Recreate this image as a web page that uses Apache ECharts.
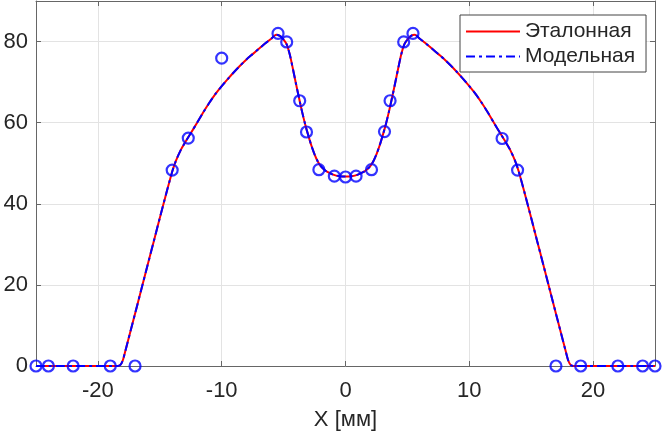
<!DOCTYPE html>
<html>
<head>
<meta charset="utf-8">
<script src="https://cdn.jsdelivr.net/npm/echarts@6/dist/echarts.min.js"></script>
<style>
  html, body { margin: 0; padding: 0; background: #fff; }
  #chart { width: 664px; height: 433px; }
</style>
</head>
<body>
<div id="chart"></div>
<script>
// curve (left half, right half mirrored)
const halfX = [-25, -18.4, -18.2, -18.0, -17.8, -17.4, -17.0, -16.5, -16.0, -15.5, -15.0, -14.5, -14.0, -13.7, -13.3, -13.0, -12.5, -12.0, -11.5, -11.0, -10.5, -10.0, -9.5, -9.0, -8.5, -8.0, -7.5, -7.0, -6.5, -6.0, -5.6, -5.3, -5.0, -4.75, -4.5, -4.25, -4.0, -3.75, -3.5, -3.25, -3.0, -2.75, -2.5, -2.25, -2.0, -1.75, -1.5, -1.0, -0.5]
const halfRef = [0, 0, 0.2, 1.3, 3.5, 8.2, 12.9, 18.8, 24.7, 30.6, 36.5, 42.3, 47.9, 50.6, 53.3, 54.9, 57.4, 59.9, 62.5, 64.9, 67.1, 69.0, 70.8, 72.5, 74.1, 75.6, 76.9, 78.2, 79.5, 80.7, 81.7, 81.4, 80.5, 79.3, 76.8, 73.3, 69.6, 66.0, 62.6, 59.5, 56.8, 54.3, 52.2, 50.5, 49.3, 48.5, 47.9, 47.2, 46.8]
const centerY = 46.7

const curveX = halfX.concat([0], halfX.slice().reverse().map(v => -v))
const refY = halfRef.concat([centerY], halfRef.slice().reverse())
const modelY = refY.slice()

// measured points (circles)
const pointX = [-25, -24, -22, -19, -17, -14, -12.7, -10, -5.45, -4.75, -3.7, -3.15, -2.15, -0.9, 0, 0.85, 2.1, 3.15, 3.6, 4.7, 5.45, 12.65, 13.9, 17, 19, 22, 24, 25]
const pointY = [0, 0, 0, 0, 0, 48.3, 56.2, 75.9, 82.0, 79.9, 65.4, 57.7, 48.4, 46.8, 46.6, 46.8, 48.4, 57.8, 65.4, 79.9, 82.0, 56.1, 48.3, 0, 0, 0, 0, 0]

const names = ['Эталонная', 'Модельная']
const axisColor = '#666'
const textColor = '#262626'
const font = 'Liberation Sans'

// legend samples: solid line and dash-dot line, 54 x 2 px
const solidIcon = 'path://M0,0H54V2H0Z'
const dashDotIcon = 'path://M0,0H9V2H0Z M13,0H16V2H13Z M20,0H29V2H20Z M33,0H36V2H33Z M40,0H49V2H40Z M53,0H54V2H53Z'

const chart = echarts.init(document.getElementById('chart'))

const zip = (xs, ys) => xs.map((x, i) => [x, ys[i]])

chart.setOption({
  animation: false,
  grid: { left: 36, right: 9, top: 1, bottom: 67, containLabel: false, outerBoundsMode: 'none' },
  legend: {
    data: [
      { name: names[0], icon: solidIcon, itemStyle: { color: '#ff0000' } },
      { name: names[1], icon: dashDotIcon, itemStyle: { color: '#0000ff' } }
    ],
    orient: 'vertical',
    left: 460,
    top: 15,
    itemWidth: 54,
    itemHeight: 2,
    itemGap: 4,
    padding: [6, 11, 5, 6],
    backgroundColor: '#fff',
    borderColor: '#444',
    borderWidth: 1,
    borderRadius: 0,
    textStyle: { fontSize: 21, color: textColor, fontFamily: font }
  },
  xAxis: [
    {
      type: 'value',
      min: -25,
      max: 25,
      splitNumber: 5,
      name: 'X [мм]',
      nameLocation: 'middle',
      nameGap: 43,
      nameTextStyle: { fontSize: 22, color: textColor, fontFamily: font },
      axisLine: { onZero: false, lineStyle: { color: axisColor } },
      axisTick: { inside: true, length: 5, lineStyle: { color: axisColor } },
      axisLabel: { fontSize: 22, color: textColor, fontFamily: font, margin: 14, showMinLabel: false, showMaxLabel: false },
      splitLine: { show: true, lineStyle: { color: '#e3e3e3' } }
    },
    {
      type: 'value',
      position: 'top',
      min: -25,
      max: 25,
      splitNumber: 5,
      axisLine: { onZero: false, lineStyle: { color: axisColor } },
      axisTick: { inside: true, length: 5, lineStyle: { color: axisColor } },
      axisLabel: { show: false },
      splitLine: { show: false }
    }
  ],
  yAxis: [
    {
      type: 'value',
      min: 0,
      max: 90,
      interval: 20,
      axisLine: { show: true, onZero: false, lineStyle: { color: axisColor } },
      axisTick: { show: true, inside: true, length: 5, lineStyle: { color: axisColor } },
      axisLabel: { fontSize: 22, color: textColor, fontFamily: font, margin: 8, showMaxLabel: false },
      splitLine: { show: true, lineStyle: { color: '#e3e3e3' } }
    },
    {
      type: 'value',
      position: 'right',
      min: 0,
      max: 90,
      interval: 20,
      axisLine: { show: true, onZero: false, lineStyle: { color: axisColor } },
      axisTick: { show: true, inside: true, length: 5, lineStyle: { color: axisColor } },
      axisLabel: { show: false },
      splitLine: { show: false }
    }
  ],
  series: [
    {
      name: names[0],
      type: 'line',
      data: zip(curveX, refY),
      symbol: 'none',
      smooth: 0.25,
      lineStyle: { color: '#ff0000', width: 2 },
      itemStyle: { color: '#ff0000' },
      z: 2
    },
    {
      name: names[1],
      type: 'line',
      data: zip(curveX, modelY),
      symbol: 'none',
      smooth: 0.25,
      lineStyle: { color: '#0000ff', width: 2, type: [9, 4, 3, 4] },
      itemStyle: { color: '#0000ff' },
      z: 3
    },
    {
      name: 'points',
      type: 'scatter',
      data: zip(pointX, pointY),
      symbol: 'circle',
      symbolSize: 11,
      itemStyle: { color: 'rgba(0,0,0,0)', borderColor: '#0000ff', borderWidth: 2.2 },
      z: 4
    }
  ]
})
</script>
</body>
</html>
